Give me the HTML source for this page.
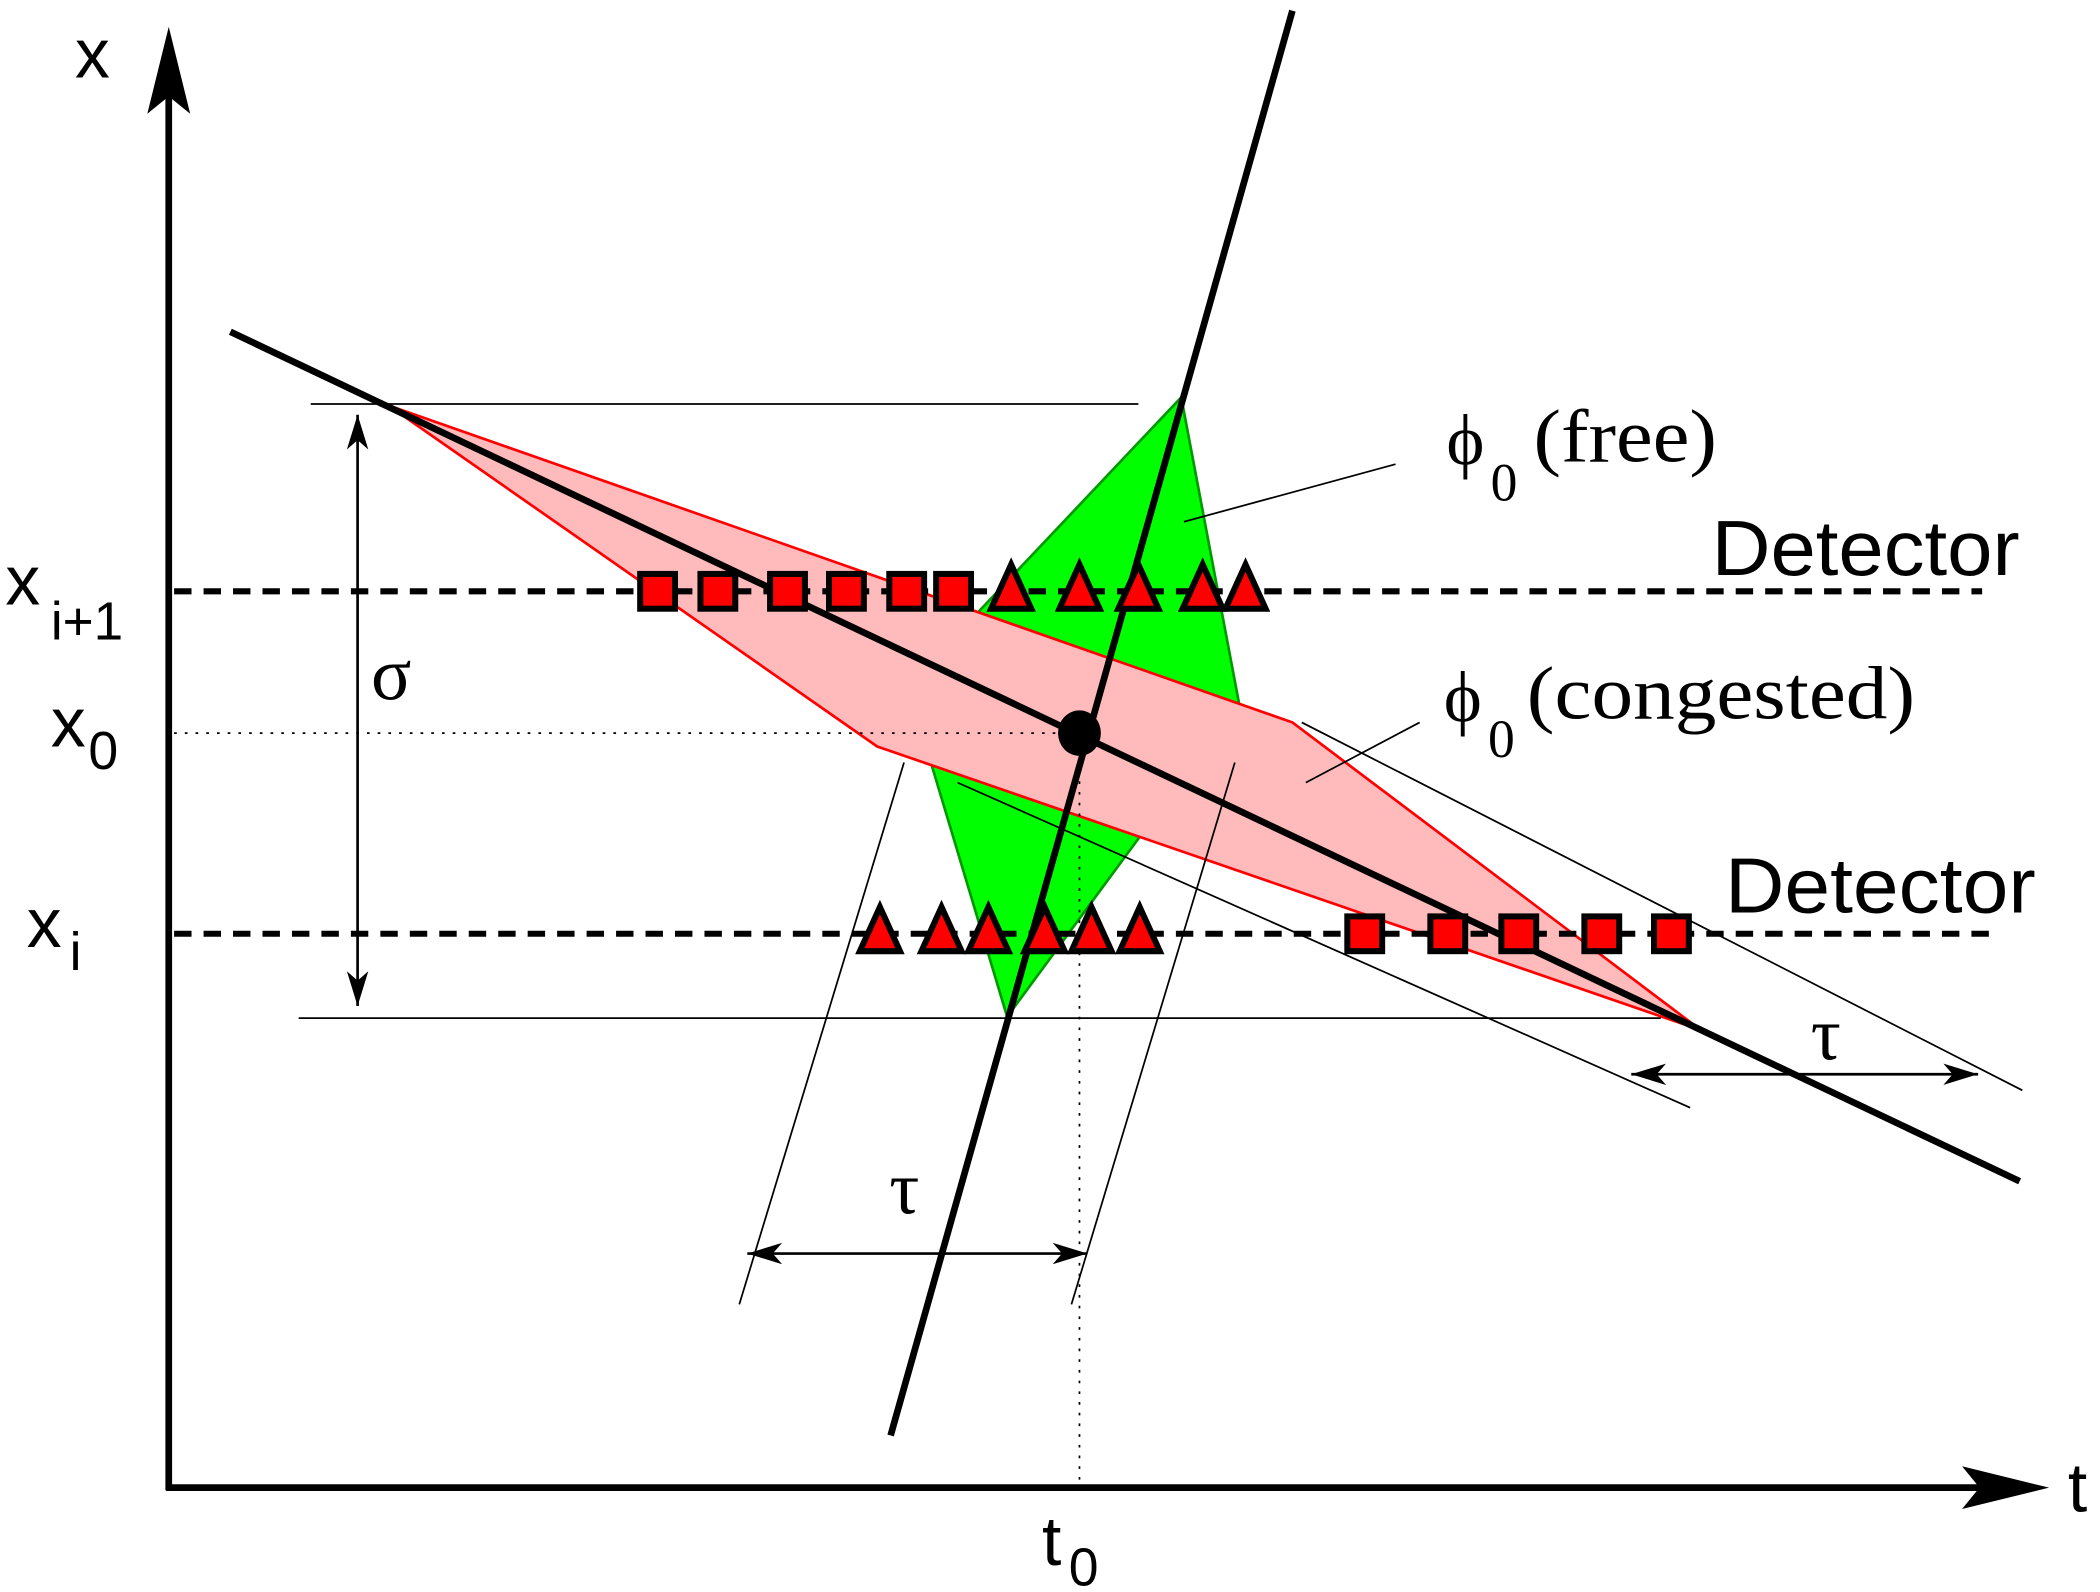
<!DOCTYPE html>
<html><head><meta charset="utf-8"><style>
html,body{margin:0;padding:0;background:#fff;}
svg{display:block;}
.sans{font-family:"Liberation Sans",sans-serif;}
.serif{font-family:"Liberation Serif",serif;}
</style></head><body>
<svg width="2100" height="1592" viewBox="0 0 1568 1190" preserveAspectRatio="none" xmlns="http://www.w3.org/2000/svg">
<defs>
<marker id="ah" viewBox="0 0 26 16" refX="26" refY="8" markerWidth="26" markerHeight="16" markerUnits="userSpaceOnUse" orient="auto-start-reverse">
<path d="M0,0 L26,8 L0,16 L7,8 Z" fill="#000"/>
</marker>
</defs>
<polygon points="882,297 925,525 752,760 678,513" fill="#00ff00" stroke="#009900" stroke-width="2"/>
<polygon points="290,303 965,540 1270,770 655,558" fill="#ffbbbb" stroke="#ff0000" stroke-width="2"/>
<line x1="232" y1="302" x2="850" y2="302" stroke="#000" stroke-width="1.3"/>
<line x1="223" y1="761" x2="1240" y2="761" stroke="#000" stroke-width="1.3"/>
<line x1="130" y1="548" x2="800" y2="548" stroke="#000" stroke-width="1.3" stroke-dasharray="2,6"/>
<line x1="806" y1="560" x2="806" y2="1112" stroke="#000" stroke-width="1.3" stroke-dasharray="2,6"/>
<line x1="675" y1="570" x2="552" y2="975" stroke="#000" stroke-width="1.3"/>
<line x1="922" y1="570" x2="800" y2="975" stroke="#000" stroke-width="1.3"/>
<line x1="715" y1="585" x2="1262" y2="828" stroke="#000" stroke-width="1.3"/>
<line x1="972" y1="540" x2="1510" y2="815" stroke="#000" stroke-width="1.3"/>
<line x1="558" y1="937" x2="812" y2="937" stroke="#000" stroke-width="2" marker-start="url(#ah)" marker-end="url(#ah)"/>
<line x1="1218" y1="803" x2="1477" y2="803" stroke="#000" stroke-width="2" marker-start="url(#ah)" marker-end="url(#ah)"/>
<line x1="267" y1="310" x2="267" y2="752" stroke="#000" stroke-width="2" marker-start="url(#ah)" marker-end="url(#ah)"/>
<line x1="1042" y1="347" x2="884" y2="390" stroke="#000" stroke-width="1.3"/>
<line x1="1060" y1="540" x2="975" y2="585" stroke="#000" stroke-width="1.3"/>
<line x1="130" y1="442" x2="1480" y2="442" stroke="#000" stroke-width="4.5" stroke-dasharray="13,9"/>
<line x1="130" y1="698" x2="1490" y2="698" stroke="#000" stroke-width="4.5" stroke-dasharray="13,9"/>
<line x1="172" y1="248" x2="1508" y2="883" stroke="#000" stroke-width="5"/>
<line x1="665" y1="1073" x2="965" y2="8" stroke="#000" stroke-width="5"/>
<g id="markers"></g>
<ellipse cx="806" cy="548" rx="16" ry="17" fill="#000"/>
<line x1="126" y1="1114" x2="126" y2="40" stroke="#000" stroke-width="5"/>
<polygon points="126,20 142,85 126,72 110,85" fill="#000"/>
<line x1="124" y1="1112" x2="1510" y2="1112" stroke="#000" stroke-width="5"/>
<polygon points="1530,1112 1465,1096 1478,1112 1465,1128" fill="#000"/>
<g class="sans" font-size="52">
<text x="56" y="58">x</text>
<text x="1544" y="1130">t</text>
<text x="4" y="452">x</text>
<text x="38" y="478" font-size="40" textLength="54" lengthAdjust="spacingAndGlyphs">i+1</text>
<text x="38" y="558">x</text>
<text x="66" y="575" font-size="40">0</text>
<text x="20" y="708">x</text>
<text x="52" y="725" font-size="40">i</text>
<text x="778" y="1170">t</text>
<text x="798" y="1185" font-size="40">0</text>
<text x="1278" y="430" font-size="58" textLength="230" lengthAdjust="spacingAndGlyphs">Detector</text>
<text x="1288" y="682" font-size="58" textLength="232" lengthAdjust="spacingAndGlyphs">Detector</text>
</g>
<g class="serif">
<text x="277" y="523" font-size="56">σ</text>
<text x="664" y="907" font-size="56">τ</text>
<text x="1352" y="792" font-size="56">τ</text>
<text x="1080" y="347" font-size="54">ϕ</text>
<text x="1113" y="374" font-size="40">0</text>
<text x="1145" y="345" font-size="56" textLength="137" lengthAdjust="spacingAndGlyphs">(free)</text>
<text x="1078" y="539" font-size="54">ϕ</text>
<text x="1111" y="566" font-size="40">0</text>
<text x="1140" y="537" font-size="56" textLength="290" lengthAdjust="spacingAndGlyphs">(congested)</text>
</g>
</svg>
<script>
const squaresUpper = [491,536,588,632,677,712];
const trianglesUpper = [755,806,850,898,930];
const trianglesLower = [657,703,738,780,815,851];
const squaresLower = [1019,1081,1134,1196,1248];
const detectorY = [442, 698];
const NS = "http://www.w3.org/2000/svg";
const g = document.getElementById('markers');
function sq(x, y){
  const r = document.createElementNS(NS,'rect');
  r.setAttribute('x', x-13); r.setAttribute('y', y-13);
  r.setAttribute('width', 26); r.setAttribute('height', 26);
  r.setAttribute('fill','#ff0000'); r.setAttribute('stroke','#000'); r.setAttribute('stroke-width','4.5');
  
  
  g.appendChild(r);
}
function tri(x, y){
  const p = document.createElementNS(NS,'polygon');
  p.setAttribute('points', `${x},${y-20} ${x+15},${y+13} ${x-15},${y+13}`);
  p.setAttribute('fill','#ff0000'); p.setAttribute('stroke','#000'); p.setAttribute('stroke-width','4.5');
  p.setAttribute('stroke-linejoin','miter');
  
  
  g.appendChild(p);
}
squaresUpper.forEach(x=>sq(x, detectorY[0]));
trianglesUpper.forEach(x=>tri(x, detectorY[0]));
trianglesLower.forEach(x=>tri(x, detectorY[1]));
squaresLower.forEach(x=>sq(x, detectorY[1]));
</script>
</body></html>
